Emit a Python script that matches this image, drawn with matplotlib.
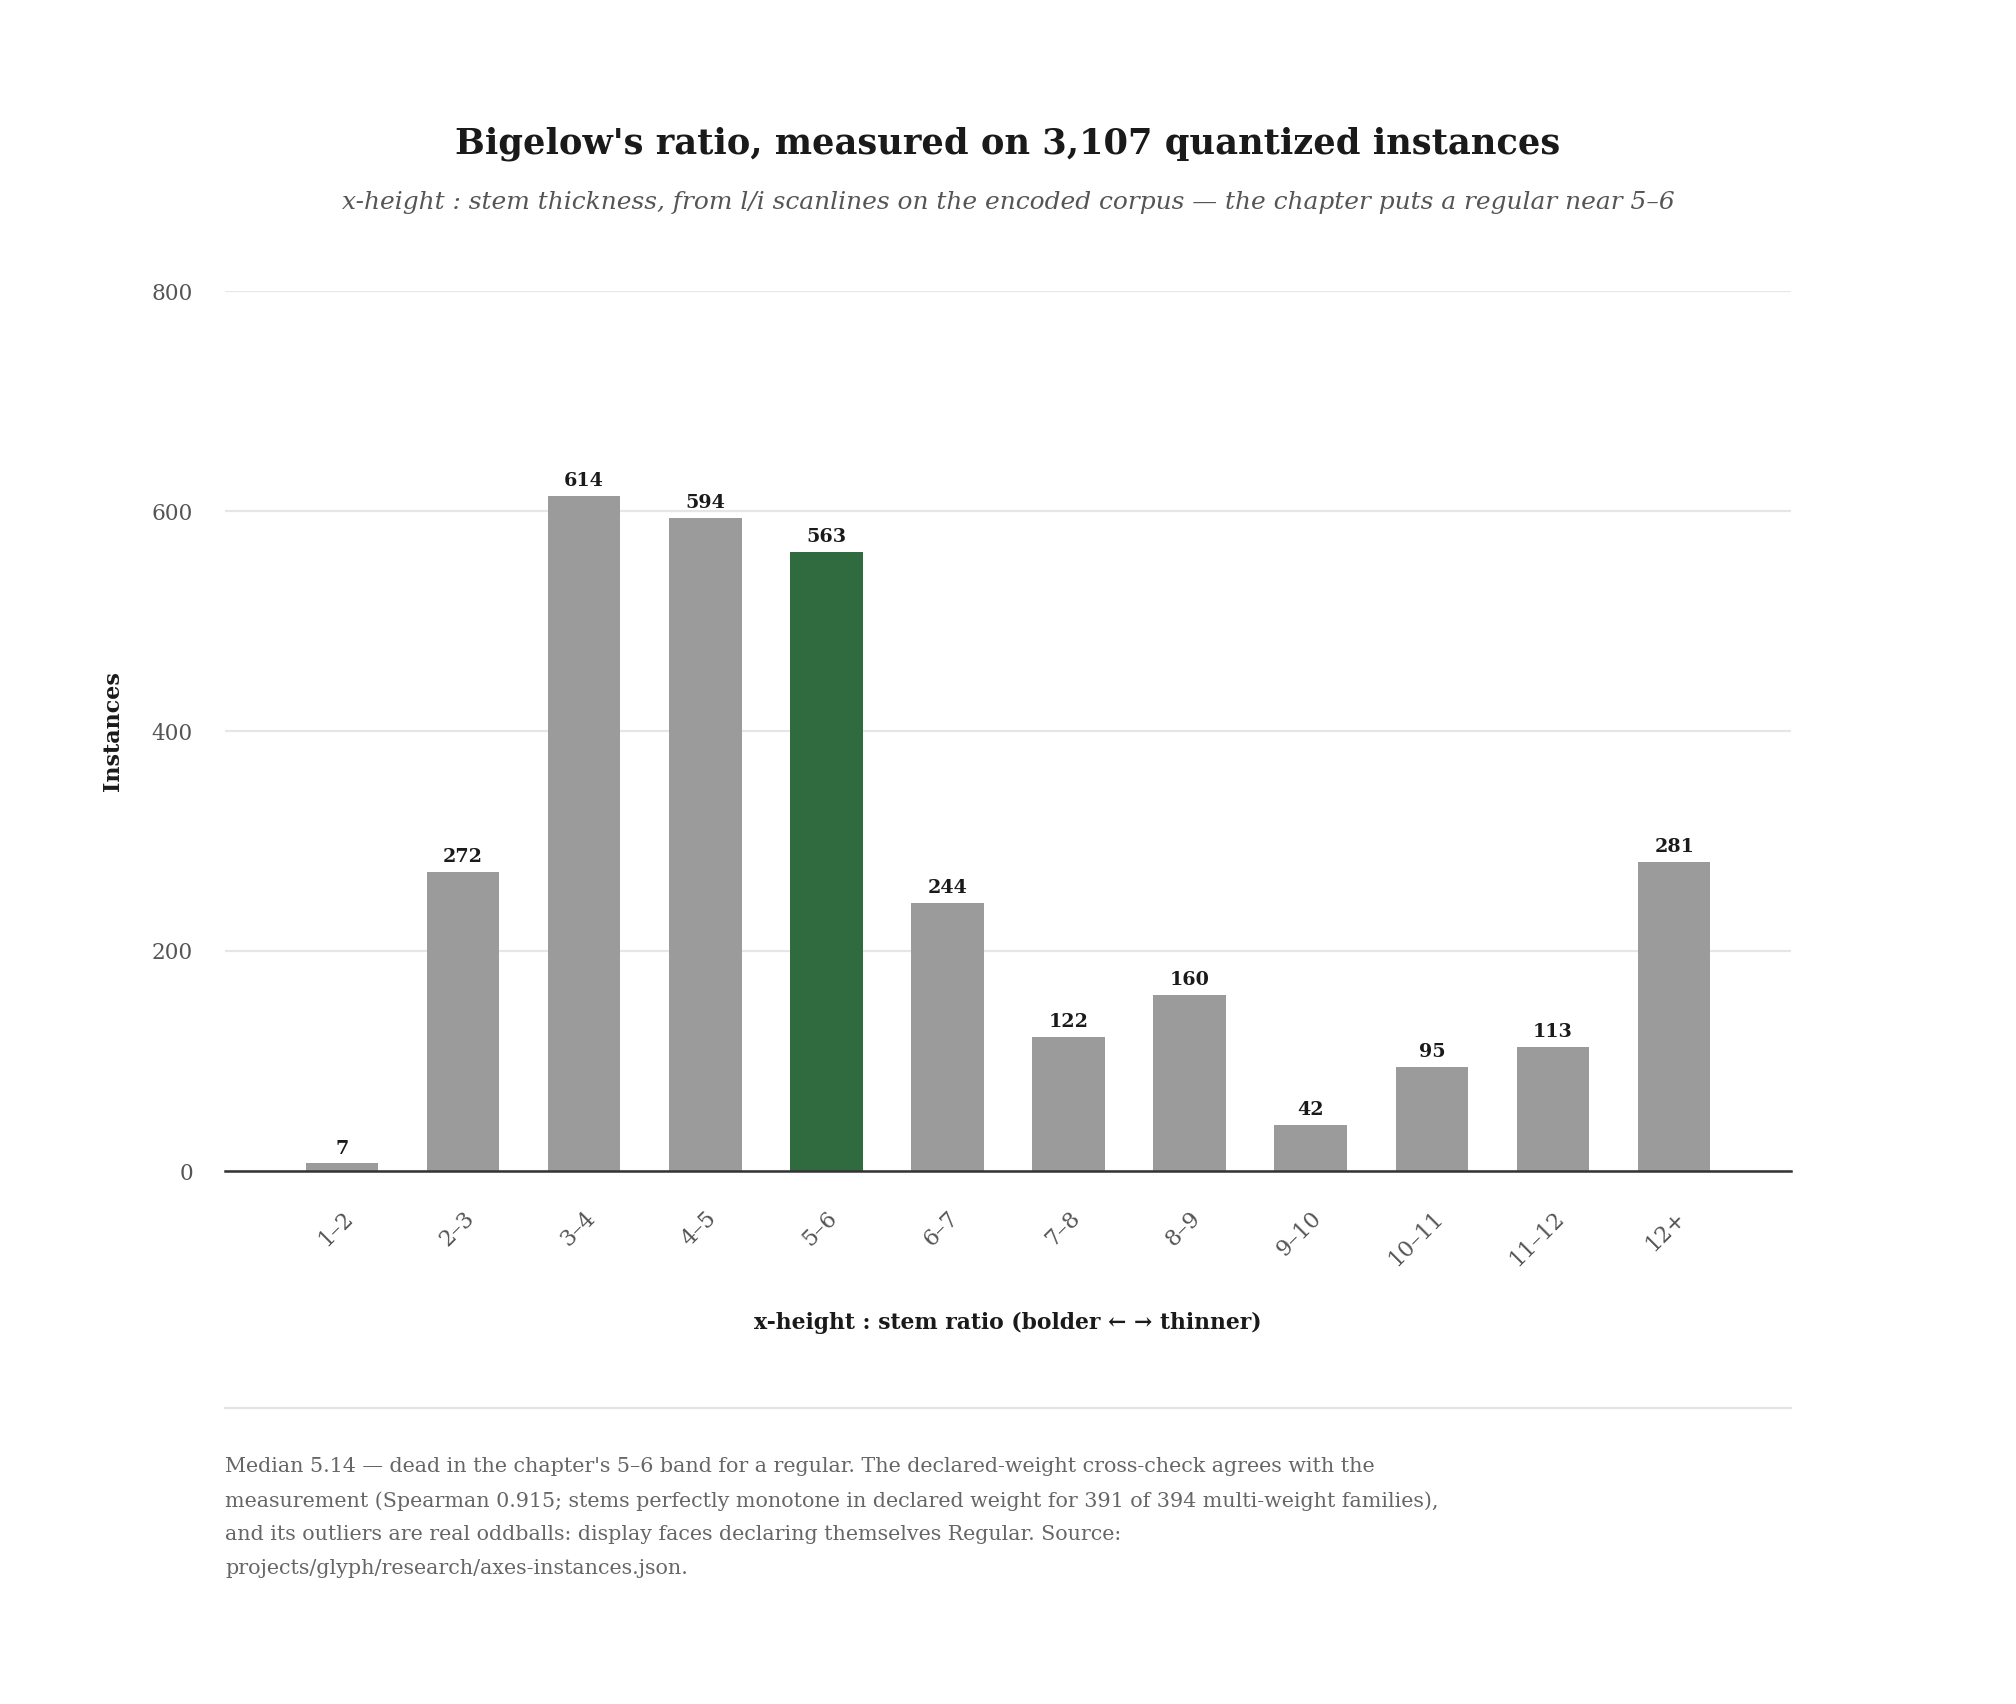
import matplotlib.pyplot as plt
from matplotlib.lines import Line2D

# -------------------------------
# Data
# -------------------------------
bins = ["1–2", "2–3", "3–4", "4–5", "5–6", "6–7", "7–8", "8–9",
        "9–10", "10–11", "11–12", "12+"]
counts = [7, 272, 614, 594, 563, 244, 122, 160, 42, 95, 113, 281]
highlight = "5–6"

title = "Bigelow's ratio, measured on 3,107 quantized instances"
subtitle = ("x-height : stem thickness, from l/i scanlines on the encoded corpus"
            " — the chapter puts a regular near 5–6")
note = ("Median 5.14 — dead in the chapter's 5–6 band for a regular. The declared-weight cross-check agrees with the\n"
        "measurement (Spearman 0.915; stems perfectly monotone in declared weight for 391 of 394 multi-weight families),\n"
        "and its outliers are real oddballs: display faces declaring themselves Regular. Source:\n"
        "projects/glyph/research/axes-instances.json.")

plt.rcParams['font.family'] = ['DejaVu Serif']

W, H = 2016, 1704
fig = plt.figure(figsize=(W / 200, H / 200), dpi=200)
ax = fig.add_axes([225 / W, 1 - 1171 / H, (1791 - 225) / W, (1171 - 291) / H])

colors = ["#2f6b3f" if b == highlight else "#9b9b9b" for b in bins]
x = list(range(len(bins)))
ax.bar(x, counts, width=0.6, color=colors, zorder=2)

for xi, c in zip(x, counts):
    ax.text(xi, c + 5, str(c), ha="center", va="bottom", fontsize=6.9,
            fontweight="bold", color="#1a1a1a")

ax.set_xlim(-0.965, 11.965)
ax.set_ylim(0, 800)
ax.set_yticks([0, 200, 400, 600, 800])
ax.grid(axis="y", color="#e6e6e6", linewidth=0.8, zorder=0)
for s in ["top", "right", "left"]:
    ax.spines[s].set_visible(False)
ax.spines["bottom"].set_color("#333333")
ax.spines["bottom"].set_linewidth(0.9)
ax.tick_params(axis="y", length=0, pad=11.5, labelsize=7.8, labelcolor="#555555")
ax.tick_params(axis="x", length=0, pad=13, labelsize=8, labelcolor="#555555")
ax.set_xticks(x)
ax.set_xticklabels(bins, rotation=45, ha="right", rotation_mode="anchor")

ax.set_ylabel("Instances", fontsize=8, fontweight="bold", color="#1a1a1a", labelpad=10)
ax.set_xlabel("x-height : stem ratio (bolder ← → thinner)", fontsize=7.9,
              fontweight="bold", color="#1a1a1a", labelpad=15)

fig.text(1008 / W, 1 - 144 / H, title, ha="center", va="center", fontsize=12.7,
         fontweight="bold", color="#1a1a1a")
fig.text(1008 / W, 1 - 202 / H, subtitle, ha="center", va="center", fontsize=8.95,
         style="italic", color="#555555")

fig.add_artist(Line2D([225 / W, 1791 / W], [1 - 1408 / H, 1 - 1408 / H],
                      color="#e3e3e3", linewidth=0.8, transform=fig.transFigure))
fig.text(225 / W, 1 - 1457 / H, note, ha="left", va="top", fontsize=7.45,
         color="#666666", linespacing=1.97)

fig.savefig("out.png", dpi=200, facecolor="white")
